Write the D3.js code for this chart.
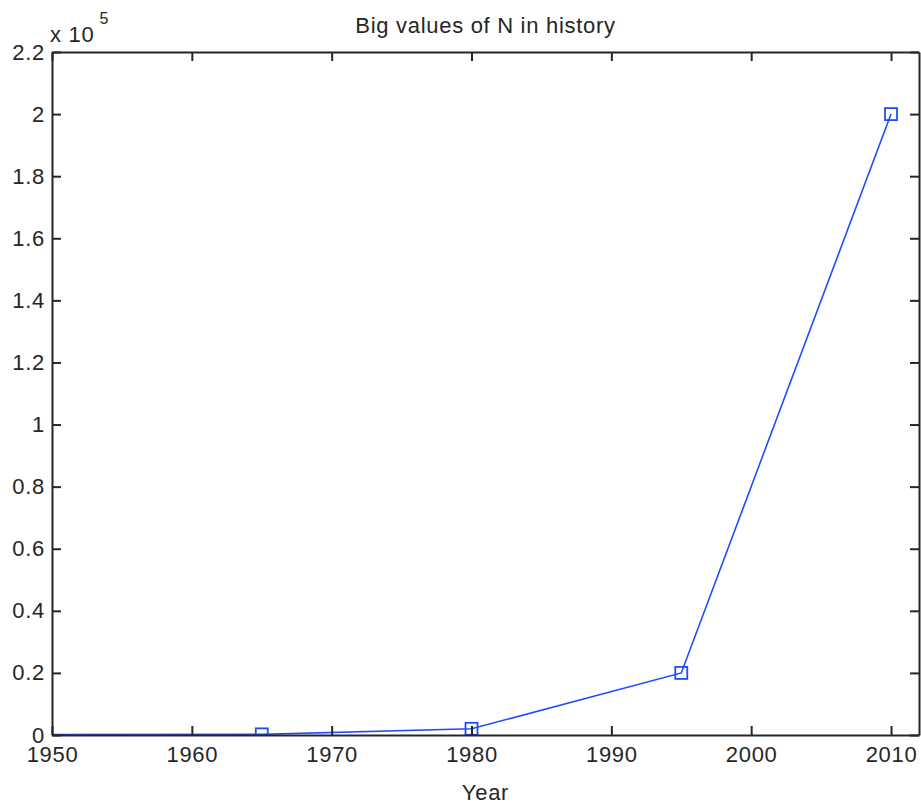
<!DOCTYPE html>
<html>
<head>
<meta charset="utf-8">
<script src="https://cdn.jsdelivr.net/npm/d3@7"></script>
<style>
  html, body { margin: 0; padding: 0; background: #fff; }
  svg { display: block; }
  text { font-family: "Liberation Sans", Arial, Helvetica, sans-serif; fill: #262626; letter-spacing: 0.7px; }
</style>
</head>
<body>
<svg id="chart" width="921" height="804"></svg>
<script>
// Year / value pairs for N (the first point lies left of the visible range)
const years = [1935, 1965, 1980, 1995, 2010];
const values = [20, 200, 2000, 20000, 200000];

const xTicks = [1950, 1960, 1970, 1980, 1990, 2000, 2010];
const yTicks = [0, 0.2, 0.4, 0.6, 0.8, 1, 1.2, 1.4, 1.6, 1.8, 2, 2.2];
const yScaleExp = 5;

const title = "Big values of N in history";
const xLabel = "Year";

const W = 921, H = 804;
const m = { left: 52, right: 2, top: 52, bottom: 69 };
const svg = d3.select("#chart");

const x = d3.scaleLinear().domain([1950, 2012]).range([m.left, W - m.right]);
const y = d3.scaleLinear().domain([0, 2.2]).range([H - m.bottom, m.top]);

const axisColor = "#262626";
const lineColor = "#1f4bff";
const fs = 22;

// clip region for the data
svg.append("clipPath").attr("id", "plotclip")
  .append("rect")
  .attr("x", x.range()[0]).attr("y", y.range()[1])
  .attr("width", x.range()[1] - x.range()[0])
  .attr("height", y.range()[0] - y.range()[1]);

const data = years.map((yr, i) => ({ x: yr, y: values[i] / Math.pow(10, yScaleExp) }));

const plot = svg.append("g").attr("clip-path", "url(#plotclip)");
plot.append("path")
  .datum(data)
  .attr("fill", "none")
  .attr("stroke", lineColor)
  .attr("stroke-width", 1.6)
  .attr("d", d3.line().x(d => x(d.x)).y(d => y(d.y)));

const ms = 12;
plot.selectAll("rect.mk")
  .data(data)
  .enter().append("rect")
  .attr("class", "mk")
  .attr("x", d => x(d.x) - ms / 2)
  .attr("y", d => y(d.y) - ms / 2)
  .attr("width", ms).attr("height", ms)
  .attr("fill", "none")
  .attr("stroke", lineColor)
  .attr("stroke-width", 1.8);

// axes with inward ticks on all four sides
function styleAxis(g) {
  g.selectAll(".domain").attr("stroke", axisColor).attr("stroke-width", 2);
  g.selectAll(".tick line").attr("stroke", axisColor).attr("stroke-width", 2);
  g.selectAll(".tick text").attr("fill", axisColor).style("font-size", fs + "px")
    .style("font-family", "'Liberation Sans', Arial, sans-serif");
}
const tickLen = 9;

const xb = svg.append("g").attr("transform", `translate(0,${y(0)})`)
  .call(d3.axisBottom(x).tickValues(xTicks).tickFormat(d3.format("d"))
    .tickSizeInner(-tickLen).tickSizeOuter(0));
styleAxis(xb);
xb.selectAll(".tick text").attr("y", 11).attr("dy", "0.71em");

const xt = svg.append("g").attr("transform", `translate(0,${y(2.2)})`)
  .call(d3.axisTop(x).tickValues(xTicks).tickFormat("")
    .tickSizeInner(-tickLen).tickSizeOuter(0));
styleAxis(xt);

const yl = svg.append("g").attr("transform", `translate(${x(1950)},0)`)
  .call(d3.axisLeft(y).tickValues(yTicks).tickFormat(d3.format("~g"))
    .tickSizeInner(-tickLen).tickSizeOuter(0));
styleAxis(yl);
yl.selectAll(".tick text").attr("x", -7);

const yr = svg.append("g").attr("transform", `translate(${x.range()[1]},0)`)
  .call(d3.axisRight(y).tickValues(yTicks).tickFormat("")
    .tickSizeInner(-tickLen).tickSizeOuter(0));
styleAxis(yr);

// exponent label
const ex = svg.append("text")
  .attr("x", x(1950) - 2).attr("y", 42)
  .style("font-size", fs + "px");
ex.append("tspan").text("x 10");
ex.append("tspan").attr("dx", 5).attr("dy", -18).style("font-size", "16px").text(yScaleExp);

// title and axis label
svg.append("text")
  .attr("x", (x.range()[0] + x.range()[1]) / 2)
  .attr("y", 33)
  .attr("text-anchor", "middle")
  .style("font-size", fs + "px")
  .text(title);

svg.append("text")
  .attr("x", (x.range()[0] + x.range()[1]) / 2)
  .attr("y", 800)
  .attr("text-anchor", "middle")
  .style("font-size", fs + "px")
  .text(xLabel);
</script>
</body>
</html>
